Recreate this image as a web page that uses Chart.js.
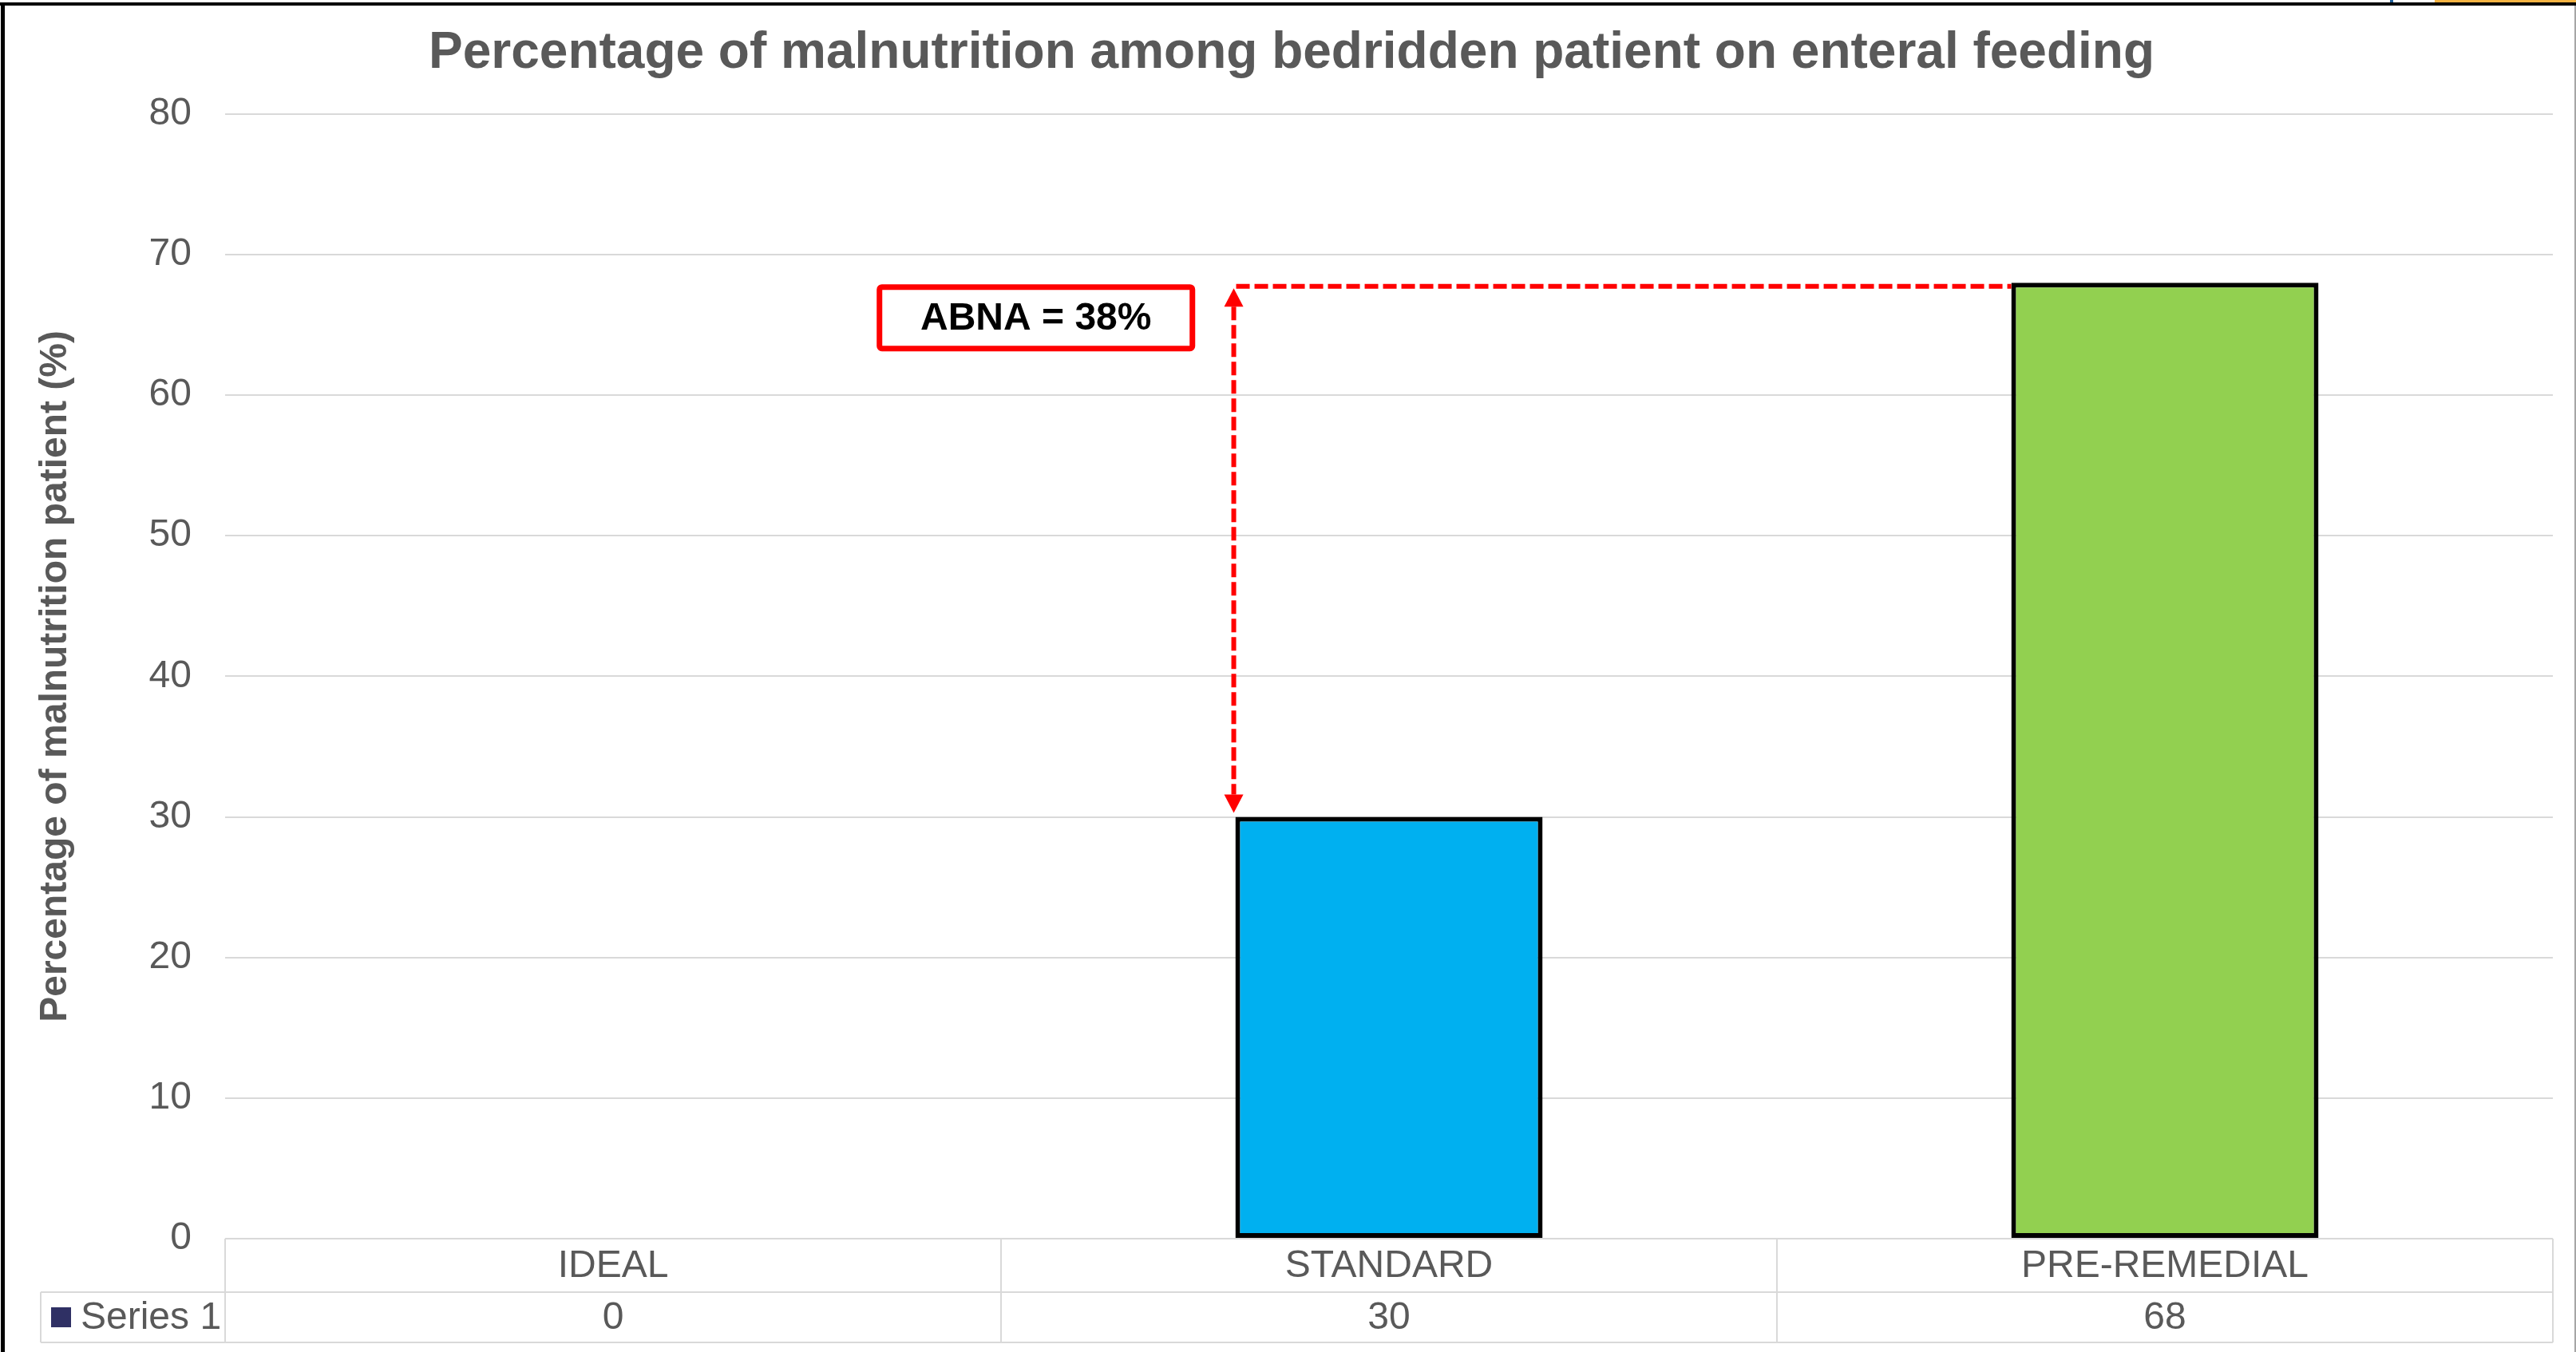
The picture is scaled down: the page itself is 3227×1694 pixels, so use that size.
<!DOCTYPE html>
<html>
<head>
<meta charset="utf-8">
<script src="https://cdn.jsdelivr.net/npm/chart.js@4.4.1/dist/chart.umd.min.js"></script>
<style>
  html, body { margin: 0; padding: 0; background: #fff; }
  #wrap { position: relative; width: 3227px; height: 1694px; overflow: hidden; background: #fff; }
  #c { position: absolute; left: 0; top: 0; }
  .edge { position: absolute; }
</style>
</head>
<body>
<div id="wrap">
  <canvas id="c" width="3227" height="1694"></canvas>
  <div class="edge" style="left:3050px;top:0;width:177px;height:3px;background:#f5b342"></div>
  <div class="edge" style="left:2994px;top:0;width:4px;height:3px;background:#1f5f99"></div>
  <div class="edge" style="left:0;top:3px;width:3227px;height:4px;background:#000"></div>
  <div class="edge" style="left:1px;top:3px;width:5px;height:1691px;background:#000"></div>
  <div class="edge" style="left:3225px;top:7px;width:2px;height:1687px;background:#a6a6a6"></div>
</div>
<script>
// Chart data
const categories = ['IDEAL', 'STANDARD', 'PRE-REMEDIAL'];
const series1 = [0, 30, 68];
const seriesName = 'Series 1';
const chartTitle = 'Percentage of malnutrition among bedridden patient on enteral feeding';
const yAxisTitle = 'Percentage of malnutrition patient (%)';
const gapLabel = 'ABNA = 38%';
const yMin = 0, yMax = 80, yStep = 10;

// Styling
const FONT = "'Liberation Sans', Arial, sans-serif";
const TEXT_GRAY = '#595959';
const GRID = '#d9d9d9';
const barFill = ['#2f3064', '#00b0f0', '#92d050'];
const seriesKeyColor = '#2f3064';
const RED = '#ff0000';

// Centre the title over the plot area rather than the whole canvas
const titleOffset = {
  id: 'titleOffset',
  afterLayout(chart) {
    if (chart.titleBlock) chart.titleBlock.left += 38;
  }
};

// Data table under the plot: category row (axis labels) + value row
const dataTable = {
  id: 'dataTable',
  beforeDatasetsDraw(chart) {
    const { ctx, chartArea, scales } = chart;
    const xs = scales.x;
    const band = (chartArea.right - chartArea.left) / categories.length;
    const r1 = chartArea.bottom, r2 = r1 + 67, r3 = r1 + 130;
    const keyLeft = 51;
    ctx.save();
    ctx.strokeStyle = GRID;
    ctx.lineWidth = 2;
    const seg = (x1, y1, x2, y2) => { ctx.beginPath(); ctx.moveTo(x1, y1); ctx.lineTo(x2, y2); ctx.stroke(); };
    seg(chartArea.left, r1, chartArea.right, r1);
    seg(keyLeft, r2, chartArea.right, r2);
    seg(keyLeft, r3, chartArea.right, r3);
    seg(keyLeft, r2, keyLeft, r3);
    for (let i = 0; i <= categories.length; i++) {
      const ex = xs.getPixelForValue(i) - band / 2;
      seg(ex, r1, ex, r3);
    }
    // series key
    ctx.fillStyle = seriesKeyColor;
    ctx.fillRect(64, r2 + 19, 25, 25);
    ctx.fillStyle = TEXT_GRAY;
    ctx.font = '48px ' + FONT;
    ctx.textBaseline = 'middle';
    ctx.textAlign = 'left';
    ctx.fillText(seriesName, 101, (r2 + r3) / 2 + 1);
    ctx.textAlign = 'center';
    series1.forEach((v, i) => ctx.fillText(String(v), xs.getPixelForValue(i), (r2 + r3) / 2 + 1));
    ctx.restore();
  }
};

// Dashed double arrow showing the gap between STANDARD and PRE-REMEDIAL
const gapMarker = {
  id: 'gapMarker',
  afterDatasetsDraw(chart) {
    const { ctx, scales } = chart;
    const xs = scales.x, ys = scales.y;
    const bars = chart.getDatasetMeta(0).data;
    const lo = bars[1], hi = bars[2];
    const lx = lo.x - lo.width / 2 - 2;
    const yHi = ys.getPixelForValue(series1[2]);
    const yLo = ys.getPixelForValue(series1[1]);
    const tipTop = yHi + 7, tipBot = yLo - 5;
    const headW = 24, headH = 23;
    ctx.save();
    ctx.strokeStyle = RED;
    ctx.fillStyle = RED;
    ctx.lineWidth = 6;
    ctx.setLineDash([17, 6]);
    ctx.beginPath();
    ctx.moveTo(lx + 3, yHi + 4.5);
    ctx.lineTo(hi.x - hi.width / 2, yHi + 4.5);
    ctx.stroke();
    ctx.beginPath();
    ctx.moveTo(lx, tipTop + headH);
    ctx.lineTo(lx, tipBot - headH);
    ctx.stroke();
    ctx.setLineDash([]);
    ctx.beginPath();
    ctx.moveTo(lx, tipTop);
    ctx.lineTo(lx - headW / 2, tipTop + headH);
    ctx.lineTo(lx + headW / 2, tipTop + headH);
    ctx.closePath();
    ctx.fill();
    ctx.beginPath();
    ctx.moveTo(lx, tipBot);
    ctx.lineTo(lx - headW / 2, tipBot - headH);
    ctx.lineTo(lx + headW / 2, tipBot - headH);
    ctx.closePath();
    ctx.fill();

    // label box
    const cx = xs.getPixelForValue(0.545);
    const cy = ys.getPixelForValue(65.5);
    const bw = 392, bh = 77;
    ctx.lineWidth = 7;
    ctx.lineJoin = 'round';
    ctx.fillStyle = '#fff';
    ctx.beginPath();
    ctx.roundRect(cx - bw / 2, cy - bh / 2, bw, bh, 3);
    ctx.fill();
    ctx.stroke();
    ctx.fillStyle = '#000';
    ctx.font = 'bold 48px ' + FONT;
    ctx.textAlign = 'center';
    ctx.textBaseline = 'middle';
    ctx.fillText(gapLabel, cx, cy + 2);
    ctx.restore();
  }
};

new Chart(document.getElementById('c'), {
  type: 'bar',
  data: {
    labels: categories,
    datasets: [{
      label: seriesName,
      data: series1,
      backgroundColor: barFill,
      borderColor: '#000',
      borderWidth: 6,
      borderSkipped: false,
      barPercentage: 0.396,
      categoryPercentage: 1.0
    }]
  },
  options: {
    responsive: false,
    animation: false,
    devicePixelRatio: 1,
    layout: { padding: { left: 0, right: 29, top: 0, bottom: 0 } },
    plugins: {
      legend: { display: false },
      tooltip: { enabled: false },
      title: {
        display: true,
        text: chartTitle,
        color: TEXT_GRAY,
        font: { family: FONT, size: 64, weight: 'bold' },
        padding: { top: 29, bottom: 37 }
      }
    },
    scales: {
      x: {
        grid: { display: false, drawTicks: false },
        border: { display: false },
        ticks: { color: TEXT_GRAY, font: { family: FONT, size: 48 }, padding: 6, maxRotation: 0 },
        afterFit(scale) { scale.height = 142; }
      },
      y: {
        min: yMin,
        max: yMax,
        grid: { color: GRID, lineWidth: 2, drawTicks: false },
        border: { display: false },
        ticks: { stepSize: yStep, color: TEXT_GRAY, font: { family: FONT, size: 48 }, padding: 42 },
        title: {
          display: true,
          text: yAxisTitle,
          color: TEXT_GRAY,
          font: { family: FONT, size: 48, weight: 'bold' },
          padding: { top: 41, bottom: 0 }
        },
        afterFit(scale) { scale.width = 282; }
      }
    }
  },
  plugins: [titleOffset, dataTable, gapMarker]
});
</script>
</body>
</html>
